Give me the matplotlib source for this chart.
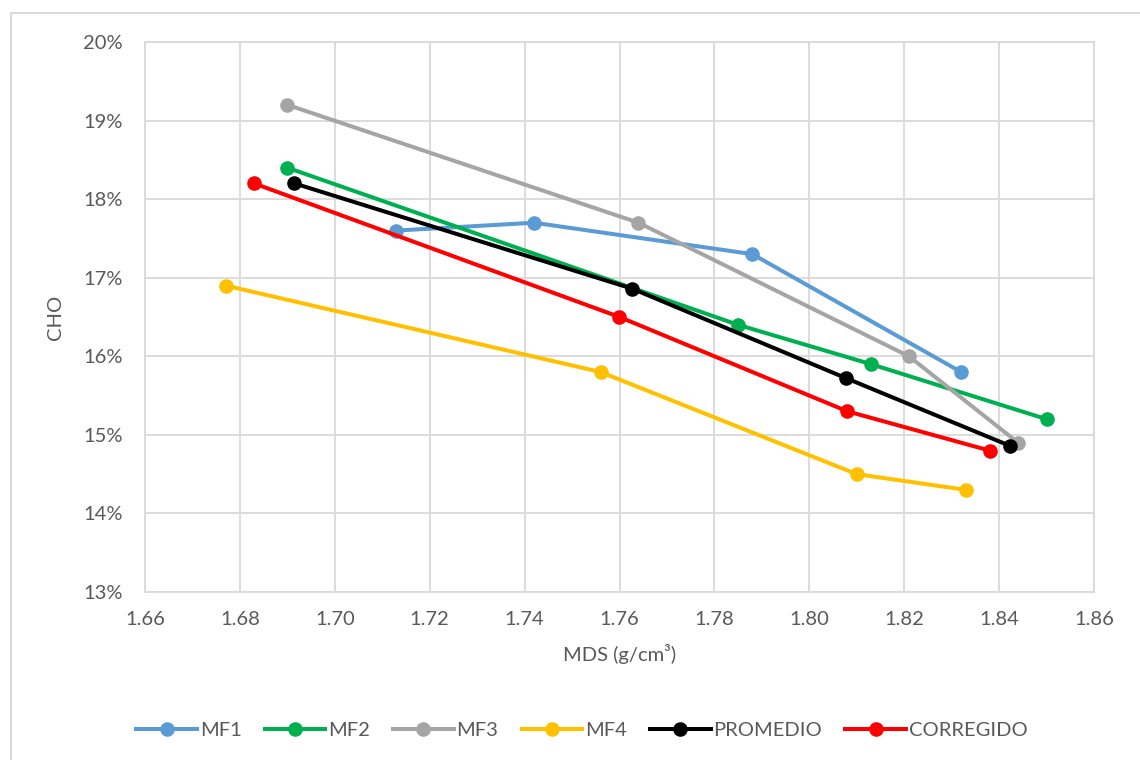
import matplotlib
matplotlib.use("Agg")
import matplotlib.pyplot as plt
from matplotlib.ticker import FuncFormatter, MultipleLocator
from matplotlib.lines import Line2D

plt.rcParams['font.family'] = ['Lato', 'DejaVu Sans']

# Data
mf1_x = [1.713, 1.742, 1.788, 1.832]
mf1_y = [17.6, 17.7, 17.3, 15.8]
mf2_x = [1.690, 1.785, 1.813, 1.850]
mf2_y = [18.4, 16.4, 15.9, 15.2]
mf3_x = [1.690, 1.764, 1.821, 1.844]
mf3_y = [19.2, 17.7, 16.0, 14.9]
mf4_x = [1.677, 1.756, 1.810, 1.833]
mf4_y = [16.9, 15.8, 14.5, 14.3]
prom_x = [1.6915, 1.7627, 1.8078, 1.8423]
prom_y = [18.2, 16.86, 15.72, 14.86]
corr_x = [1.683, 1.760, 1.808, 1.838]
corr_y = [18.2, 16.5, 15.3, 14.8]

series = [
    ("MF1", mf1_x, mf1_y, "#5B9BD5"),
    ("MF2", mf2_x, mf2_y, "#00B050"),
    ("MF3", mf3_x, mf3_y, "#A5A5A5"),
    ("MF4", mf4_x, mf4_y, "#FFC000"),
    ("PROMEDIO", prom_x, prom_y, "#000000"),
    ("CORREGIDO", corr_x, corr_y, "#FF0000"),
]

FS = 14.5
W, H = 1140, 760
fig = plt.figure(figsize=(W / 100, H / 100), dpi=100)
ax = fig.add_axes([145 / W, 1 - 592 / H, (1094 - 145) / W, (592 - 42) / H])

for name, xs, ys, c in series:
    ax.plot(xs, ys, color=c, lw=2.9, marker='o', markersize=10.5,
            markeredgewidth=0, label=name, solid_capstyle='round', zorder=3)

ax.set_xlim(1.66, 1.86)
ax.set_ylim(13, 20)
ax.xaxis.set_major_locator(MultipleLocator(0.02))
ax.yaxis.set_major_locator(MultipleLocator(1))
ax.xaxis.set_major_formatter(FuncFormatter(lambda v, p: f"{v:.2f}"))
ax.yaxis.set_major_formatter(FuncFormatter(lambda v, p: f"{v:.0f}%"))
ax.grid(True, color="#D9D9D9", lw=1.3, zorder=0)
ax.set_axisbelow(True)
for s in ax.spines.values():
    s.set_color("#D9D9D9")
    s.set_linewidth(1.3)
ax.tick_params(axis='x', length=0, labelsize=FS, labelcolor="#595959", pad=14)
ax.tick_params(axis='y', length=0, labelsize=FS, labelcolor="#595959", pad=16)
ax.set_xlabel("MDS (g/cm³)", fontsize=FS, color="#595959", labelpad=11)
ax.set_ylabel("CHO", fontsize=FS, color="#595959", labelpad=14)

handles = [Line2D([], [], color=c, lw=2.9, marker='o', markersize=10.5,
                  markeredgewidth=0) for _, _, _, c in series]
fig.legend(handles, [s[0] for s in series], loc='center',
           bbox_to_anchor=(582 / W, 1 - 730 / H), ncol=6, frameon=False,
           fontsize=FS, labelcolor="#595959", handlelength=3.0,
           handletextpad=0.15, columnspacing=1.15)

# chart area border
fig.add_artist(plt.Rectangle((11 / W, -0.05), 1.2, 1 - 13 / H + 0.05,
                             transform=fig.transFigure, fill=False,
                             edgecolor="#D9D9D9", lw=1.5))

fig.savefig("out.png", dpi=100)
